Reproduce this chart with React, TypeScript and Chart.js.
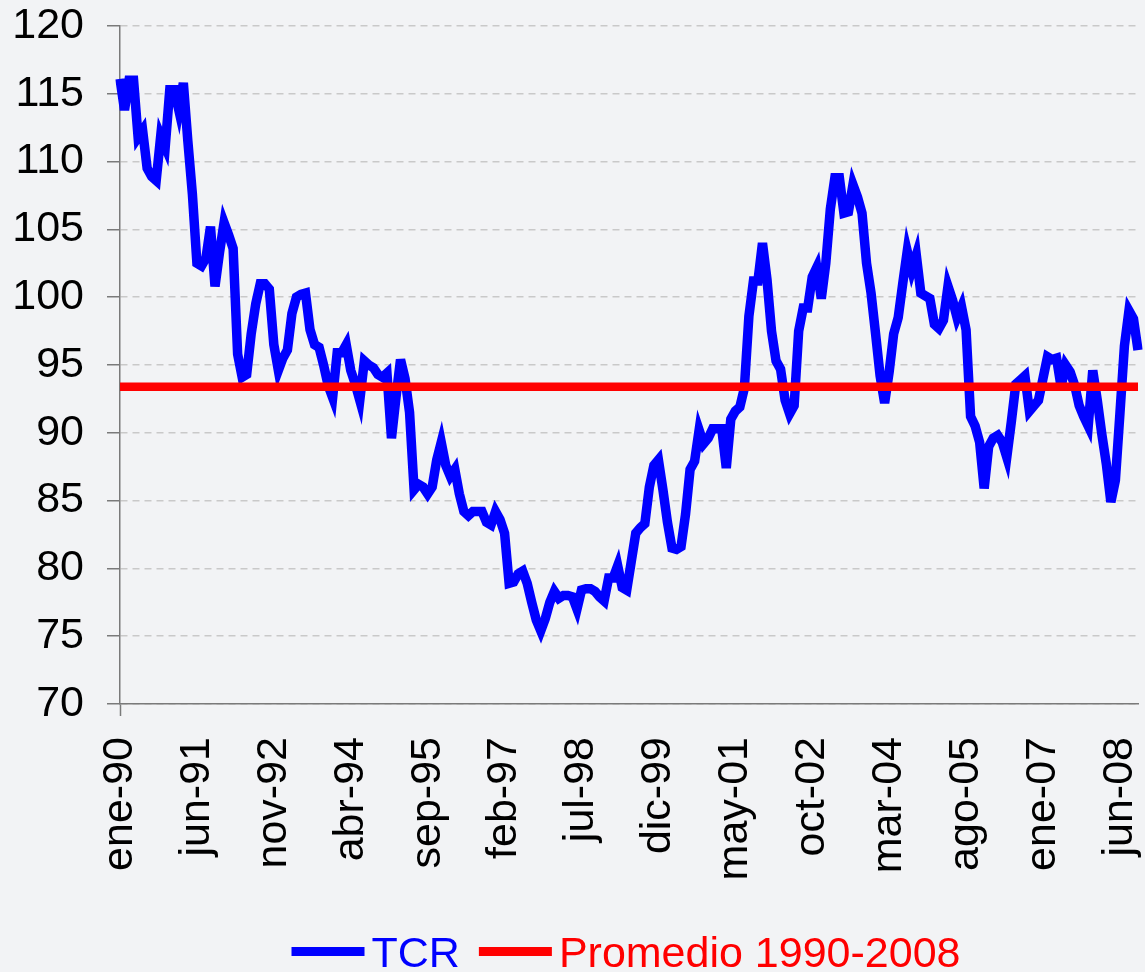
import React, { useEffect, useRef } from 'react';
import { Chart, registerables } from 'chart.js';

Chart.register(...registerables);

// ---- Categories (monthly, ene-90 .. oct-08) ----
const MONTH_NAMES = ['ene', 'feb', 'mar', 'abr', 'may', 'jun', 'jul', 'ago', 'sep', 'oct', 'nov', 'dic'];
const START_YEAR = 1990;
const N_MONTHS = 226;
const categories: string[] = Array.from({ length: N_MONTHS }, (_, i) => {
  const yy = String((START_YEAR + Math.floor(i / 12)) % 100).padStart(2, '0');
  return `${MONTH_NAMES[i % 12]}-${yy}`;
});
const LABEL_EVERY = 17; // ene-90, jun-91, nov-92, ... jun-08

// ---- Series values (TCR) ----
const tcr1990_1993 = [
  116.1, 113.8, 116.0, 116.0, 111.8, 112.3, 109.5, 108.9, 108.6, 111.9,
  111.1, 115.3, 115.3, 113.8, 115.8, 111.5, 107.6, 102.5, 102.3, 102.9,
  105.2, 100.8, 103.3, 105.5, 104.6, 103.6, 95.8, 94.1, 94.3, 97.3,
  99.5, 101.0, 101.0, 100.6, 96.5, 94.6, 95.5, 96.1, 98.8, 100.0,
  100.2, 100.3, 97.6, 96.5, 96.3, 95.0, 93.5, 92.6,
];
const tcr1994_1997 = [
  95.9, 95.9, 96.5, 94.6, 93.6, 92.4, 95.3, 95.0, 94.8, 94.3,
  94.1, 94.4, 89.6, 92.6, 95.4, 94.0, 91.5, 85.8, 86.2, 86.0,
  85.5, 86.0, 88.0, 89.3, 87.6, 86.8, 87.3, 85.5, 84.2, 83.9,
  84.2, 84.2, 84.2, 83.4, 83.2, 84.2, 83.6, 82.6, 78.9, 79.0,
  79.6, 79.8, 78.9, 77.5, 76.2, 75.4, 76.3, 77.5,
];
const tcr1998_2001 = [
  78.3, 77.8, 78.0, 78.0, 77.9, 77.0, 78.4, 78.5, 78.5, 78.3,
  77.9, 77.6, 79.3, 79.3, 80.2, 78.6, 78.4, 80.5, 82.6, 83.0,
  83.3, 86.0, 87.6, 88.0, 85.8, 83.4, 81.5, 81.4, 81.6, 84.0,
  87.3, 87.9, 90.2, 89.2, 89.6, 90.3, 90.3, 90.3, 87.4, 91.0,
  91.6, 91.9, 93.3, 98.6, 101.2, 101.2, 104.0, 101.3,
];
const tcr2002_2005 = [
  97.5, 95.3, 94.7, 92.4, 91.4, 92.0, 97.5, 99.2, 99.2, 101.5,
  102.2, 99.9, 102.5, 106.5, 108.8, 108.8, 106.2, 106.3, 108.3, 107.4,
  106.2, 102.5, 100.3, 97.3, 94.2, 92.2, 94.5, 97.3, 98.5, 101.0,
  103.4, 102.0, 103.1, 100.3, 100.1, 99.9, 98.0, 97.7, 98.3, 100.8,
  99.8, 98.5, 99.3, 97.6, 91.2, 90.5, 89.3, 85.9,
];
const tcr2006_2008 = [
  89.0, 89.6, 89.8, 89.3, 88.2, 90.8, 93.6, 93.9, 94.2, 91.6,
  92.0, 92.4, 94.0, 95.6, 95.4, 95.5, 93.4, 95.0, 94.5, 93.5,
  92.0, 91.2, 90.5, 94.6, 92.4, 89.9, 87.7, 84.9, 86.5, 91.4,
  96.4, 99.0, 98.4, 96.1,
];
const tcrValues = [...tcr1990_1993, ...tcr1994_1997, ...tcr1998_2001, ...tcr2002_2005, ...tcr2006_2008];

const PROMEDIO = 93.4;
const promedioValues = categories.map(() => PROMEDIO);

// ---- Y-axis ticks ----
const Y_MIN = 70;
const Y_MAX = 120;
const Y_STEP = 5;

const SERIES_LABELS = ['TCR', 'Promedio 1990-2008'];
const SERIES_COLORS = ['#0000ff', '#ff0000'];

const FONT_FAMILY = '"Liberation Sans", Arial, Helvetica, sans-serif';

const backgroundPlugin = {
  id: 'bg',
  beforeDraw(chart: any) {
    const { ctx, width, height } = chart;
    ctx.save();
    ctx.fillStyle = '#f2f3f5';
    ctx.fillRect(0, 0, width, height);
    ctx.restore();
  },
};

const miterPlugin = {
  id: 'miter',
  beforeDatasetsDraw(chart: any) {
    chart.ctx.save();
    chart.ctx.miterLimit = 5.5;
  },
  afterDatasetsDraw(chart: any) {
    chart.ctx.restore();
  },
};

const legendPlugin = {
  id: 'customLegend',
  afterDraw(chart: any) {
    const { ctx, chartArea, height } = chart;
    const datasets = chart.data.datasets;
    ctx.save();
    ctx.font = `43px ${FONT_FAMILY}`;
    ctx.textBaseline = 'alphabetic';
    ctx.textAlign = 'left';
    const lineW = 73;
    const gapText = 7;
    const gapItem = 19;
    const items = datasets.map((d: any) => ({
      text: d.label as string,
      color: d.borderColor as string,
      w: ctx.measureText(d.label).width,
    }));
    let total = 0;
    items.forEach((it: any, i: number) => {
      total += lineW + gapText + it.w + (i < items.length - 1 ? gapItem : 0);
    });
    let x = (chartArea.left + chartArea.right) / 2 - total / 2 - 3;
    const yLine = height - 20.5;
    const yText = height - 5.5;
    items.forEach((it: any) => {
      ctx.fillStyle = it.color;
      ctx.fillRect(x, yLine - 4.5, lineW, 9);
      x += lineW + gapText;
      ctx.fillText(it.text, x, yText);
      x += it.w + gapItem;
    });
    ctx.restore();
  },
};

export default function App() {
  const canvasRef = useRef<HTMLCanvasElement | null>(null);

  useEffect(() => {
    if (!canvasRef.current) return;
    Chart.defaults.font.family = FONT_FAMILY;
    const chart = new Chart(canvasRef.current, {
      type: 'line',
      data: {
        labels: categories,
        datasets: [
          {
            label: SERIES_LABELS[0],
            data: tcrValues,
            borderColor: SERIES_COLORS[0],
            backgroundColor: SERIES_COLORS[0],
            borderWidth: 9.5,
            pointRadius: 0,
            pointHoverRadius: 0,
            tension: 0,
            fill: false,
            borderJoinStyle: 'miter',
            order: 2,
          },
          {
            label: SERIES_LABELS[1],
            data: promedioValues,
            borderColor: SERIES_COLORS[1],
            backgroundColor: SERIES_COLORS[1],
            borderWidth: 8.5,
            pointRadius: 0,
            pointHoverRadius: 0,
            tension: 0,
            fill: false,
            order: 1,
          },
        ],
      },
      options: {
        animation: false,
        responsive: true,
        maintainAspectRatio: false,
        events: [],
        layout: { padding: { left: 10, right: 7, top: 26, bottom: 92 } },
        plugins: {
          legend: { display: false },
          tooltip: { enabled: false },
        },
        scales: {
          x: {
            type: 'category',
            offset: false,
            grid: {
              display: true,
              drawOnChartArea: false,
              drawTicks: true,
              tickLength: 12,
              tickWidth: 1.5,
              tickColor: (c: any) => (c.index % LABEL_EVERY === 0 ? '#7a7a7a' : 'rgba(0,0,0,0)'),
            },
            border: { display: true, color: '#7a7a7a', width: 1.5 },
            ticks: {
              autoSkip: false,
              maxRotation: 90,
              minRotation: 90,
              padding: 21,
              color: '#000000',
              font: { size: 43, family: FONT_FAMILY },
              callback: (_v: any, i: number) => (i % LABEL_EVERY === 0 ? categories[i] : null),
            },
            afterFit: (s: any) => {
              s.height = 176;
              s.paddingLeft = 0;
              s.paddingRight = 0;
              s.paddingTop = 0;
              s.paddingBottom = 0;
            },
          },
          y: {
            type: 'linear',
            min: Y_MIN,
            max: Y_MAX,
            grid: {
              color: '#c9c9c9',
              lineWidth: 1.5,
              drawTicks: true,
              tickLength: 13,
              tickColor: '#7a7a7a',
              tickWidth: 1.5,
            },
            border: { display: true, color: '#7a7a7a', width: 1.5, dash: [7, 5] },
            ticks: {
              stepSize: Y_STEP,
              padding: 23,
              color: '#000000',
              font: { size: 43, family: FONT_FAMILY },
            },
            afterFit: (s: any) => {
              s.width = 110;
              s.paddingLeft = 0;
              s.paddingRight = 0;
              s.paddingTop = 0;
              s.paddingBottom = 0;
            },
          },
        },
      },
      plugins: [backgroundPlugin, miterPlugin, legendPlugin],
    } as any);
    return () => chart.destroy();
  }, []);

  return (
    <div style={{ position: 'fixed', left: 0, top: 0, width: 1145, height: 972 }}>
      <canvas ref={canvasRef} />
    </div>
  );
}
